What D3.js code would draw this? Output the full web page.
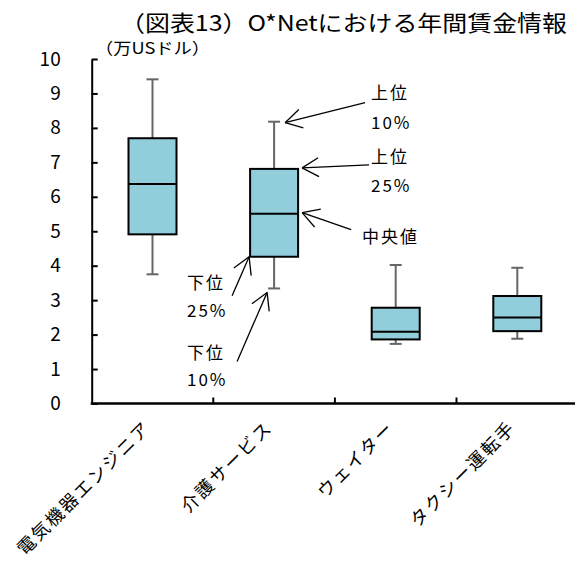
<!DOCTYPE html>
<html><head><meta charset="utf-8">
<script src="https://cdn.jsdelivr.net/npm/d3@7"></script>
<style>
body{margin:0;background:#fff;}
text{font-family:"Noto Sans CJK JP","Noto Sans",sans-serif;fill:#000;}
</style></head>
<body><svg id="c" width="575" height="562"></svg>
<script>
const categories = ["電気機器エンジニア","介護サービス","ウェイター","タクシー運転手"];
const low10  = [3.75, 3.34, 1.73, 1.88];
const low25  = [4.91, 4.26, 1.86, 2.10];
const median = [6.37, 5.51, 2.08, 2.50];
const high25 = [7.70, 6.81, 2.78, 3.12];
const high10 = [9.41, 8.18, 4.02, 3.94];
const yTicks = [0,1,2,3,4,5,6,7,8,9,10];
const title = "（図表13）O*Netにおける年間賃金情報";
const unitLabel = "（万USドル）";
const annoUpper10 = ["上位","10%"];
const annoUpper25 = ["上位","25%"];
const annoMedian = ["中央値"];
const annoLower25 = ["下位","25%"];
const annoLower10 = ["下位","10%"];

const svg = d3.select("#c");
const x0 = 91.7, bw = 121.6;
const x = d3.scaleBand().domain(categories).range([x0, x0 + bw*categories.length]).paddingInner(0).paddingOuter(0);
const y = d3.scaleLinear().domain([0,10]).range([403.5, 59]);

// title
svg.append("text").attr("x",120).attr("y",31).attr("font-size",22)
  .attr("textLength",447).attr("lengthAdjust","spacingAndGlyphs").text(title);
svg.append("text").attr("x",95).attr("y",54).attr("font-size",16)
  .attr("textLength",115).attr("lengthAdjust","spacingAndGlyphs").text(unitLabel);

// y axis
const yAxis = d3.axisLeft(y).tickValues(yTicks).tickSizeInner(-6).tickSizeOuter(0).tickPadding(31);
const gy = svg.append("g").attr("transform",`translate(${x0},0)`).call(yAxis);
gy.select(".domain").attr("stroke","#000").attr("stroke-width",2);
gy.selectAll(".tick line").attr("stroke","#000").attr("stroke-width",2);
gy.selectAll(".tick text").attr("font-size",19).attr("font-family","'Liberation Sans Narrow','Noto Sans CJK JP',sans-serif").attr("fill","#000").attr("dx",0).attr("text-anchor","end");

// x axis
const boundaries = d3.range(categories.length+1).map(i => x0 + i*bw);
svg.append("line").attr("x1",x0-1).attr("x2",575).attr("y1",y(0)).attr("y2",y(0)).attr("stroke","#000").attr("stroke-width",2.5);
svg.selectAll(".xt").data(boundaries.slice(1)).enter().append("line")
  .attr("x1",d=>d).attr("x2",d=>d).attr("y1",y(0)).attr("y2",y(0)-6).attr("stroke","#000").attr("stroke-width",2);
svg.selectAll(".xl").data(categories).enter().append("text")
  .attr("font-size",18).attr("letter-spacing",2).attr("text-anchor","end")
  .attr("transform",d=>`translate(${x(d)+x.bandwidth()/2-5},${y(0)+21}) rotate(-45)`)
  .attr("dy","0.35em").text(d=>d);

// boxes
const boxW = 48, capW = 12;
const data = categories.map((c,i)=>({c, lo:low10[i], q1:low25[i], med:median[i], q3:high25[i], hi:high10[i]}));
const g = svg.append("g");
data.forEach(d=>{
  const cx = x(d.c)+x.bandwidth()/2;
  g.append("line").attr("x1",cx).attr("x2",cx).attr("y1",y(d.hi)).attr("y2",y(d.q3)).attr("stroke","#666").attr("stroke-width",2);
  g.append("line").attr("x1",cx).attr("x2",cx).attr("y1",y(d.q1)).attr("y2",y(d.lo)).attr("stroke","#666").attr("stroke-width",2);
  g.append("line").attr("x1",cx-capW/2).attr("x2",cx+capW/2).attr("y1",y(d.hi)).attr("y2",y(d.hi)).attr("stroke","#666").attr("stroke-width",2);
  g.append("line").attr("x1",cx-capW/2).attr("x2",cx+capW/2).attr("y1",y(d.lo)).attr("y2",y(d.lo)).attr("stroke","#666").attr("stroke-width",2);
  g.append("rect").attr("x",cx-boxW/2).attr("y",y(d.q3)).attr("width",boxW).attr("height",y(d.q1)-y(d.q3))
    .attr("fill","#92CDDC").attr("stroke","#000").attr("stroke-width",2);
  g.append("line").attr("x1",cx-boxW/2).attr("x2",cx+boxW/2).attr("y1",y(d.med)).attr("y2",y(d.med)).attr("stroke","#000").attr("stroke-width",2);
});

// annotations on second box
const b = data[1];
const bcx = x(b.c)+x.bandwidth()/2;
function arrow(tx,ty,sx,sy){
  const a = svg.append("g").attr("stroke","#000").attr("stroke-width",1.3).attr("fill","none");
  a.append("line").attr("x1",sx).attr("y1",sy).attr("x2",tx).attr("y2",ty);
  const ang = Math.atan2(sy-ty, sx-tx), L=19, sp=0.52;
  [ang-sp, ang+sp].forEach(t=>{
    a.append("line").attr("x1",tx).attr("y1",ty).attr("x2",tx+L*Math.cos(t)).attr("y2",ty+L*Math.sin(t));
  });
}
function label(lines,lx,ly,gap,anchor){
  lines.forEach((t,i)=>svg.append("text").attr("x",lx).attr("y",ly+i*gap).attr("font-size",17)
    .attr("letter-spacing",2).attr("text-anchor",anchor||"start").text(t));
}
// upper 10%
arrow(bcx+11, y(b.hi)+1, bcx+91, y(b.hi)-19);
label(annoUpper10, 371, 99, 30);
// upper 25%
arrow(bcx+boxW/2+4, y(b.q3)-1, bcx+95, y(b.q3)-4);
label(annoUpper25, 371, 163, 29);
// median
arrow(bcx+boxW/2+4, y(b.med)-1, bcx+77, y(b.med)+16);
label(annoMedian, 362, 243, 0);
// lower 25%
arrow(bcx-25, y(b.q1), bcx-42, y(b.q1)+39);
label(annoLower25, 187, 289, 28);
// lower 10%
arrow(bcx-7, y(b.lo)+4, bcx-37, y(b.lo)+73);
label(annoLower10, 187, 359, 27);
</script></body></html>
